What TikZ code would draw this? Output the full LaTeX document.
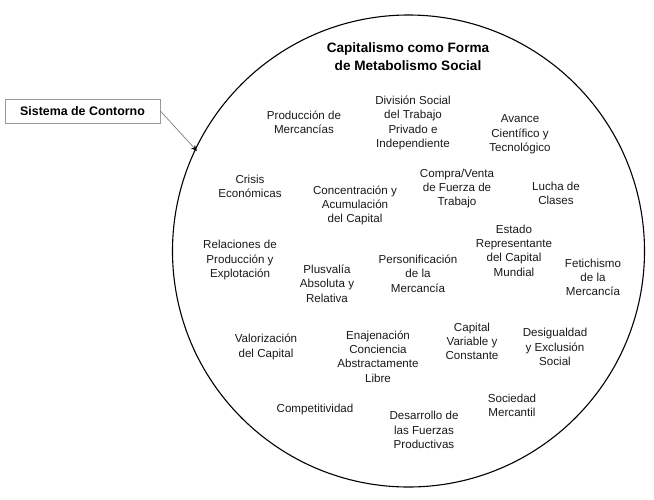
\documentclass[tikz,border=0pt]{standalone}
\usepackage{fontspec}
\setmainfont{Liberation Sans}
\usetikzlibrary{arrows.meta}
\begin{document}
\begin{tikzpicture}[x=1pt,y=-1pt,
  lbl/.style={align=center,inner sep=0pt,text=black!90,font=\fontsize{11.6}{14.3}\selectfont},
  ttl/.style={align=center,inner sep=0pt,font=\bfseries\fontsize{13.6}{18}\selectfont},
  tagbox/.style={draw=black!40,line width=0.8pt,minimum width=155pt,minimum height=24pt,inner sep=0pt,font=\bfseries\fontsize{12.4}{14}\selectfont}]
\useasboundingbox (0,0) rectangle (654,499);
\node[circle,draw,line width=1.1pt,minimum size=472pt,inner sep=0pt] (sys) at (408.5,251) {};
\node[ttl] (title) at (408,57) {Capitalismo como Forma\\de Metabolismo Social};
\node[tagbox] (tag) at (82.5,111) {Sistema de Contorno};
\coordinate (tip) at (197,151);
\draw[black!50,line width=0.7pt,-{Stealth[length=6pt,width=5pt,black]}] (tag.east) -- (tip);
\node[lbl] (n1) at (304,122.5) {Producción de\\Mercancías};
\node[lbl] (n2) at (413,123) {División Social\\del Trabajo\\Privado e\\Independiente};
\node[lbl] (n3) at (520,134.5) {Avance\\Científico y\\Tecnológico};
\node[lbl] (n4) at (250,186) {Crisis\\Económicas};
\node[lbl] (n5) at (355,205.5) {Concentración y\\Acumulación\\del Capital};
\node[lbl] (n6) at (457,188.5) {Compra/Venta\\de Fuerza de\\Trabajo};
\node[lbl] (n7) at (556,193.5) {Lucha de\\Clases};
\node[lbl] (n8) at (514,250.5) {Estado\\Representante\\del Capital\\Mundial};
\node[lbl] (n9) at (240,260) {Relaciones de\\Producción y\\Explotación};
\node[lbl] (n10) at (327,283.5) {Plusvalía\\Absoluta y\\Relativa};
\node[lbl] (n11) at (418,273.5) {Personificación\\de la\\Mercancía};
\node[lbl] (n12) at (593,277.5) {Fetichismo\\de la\\Mercancía};
\node[lbl] (n13) at (266,347) {Valorización\\del Capital};
\node[lbl] (n14) at (378,356.5) {Enajenación\\Conciencia\\Abstractamente\\Libre};
\node[lbl] (n15) at (472,341.5) {Capital\\Variable y\\Constante};
\node[lbl] (n16) at (555,347) {Desigualdad\\y Exclusión\\Social};
\node[lbl] (n17) at (315,409.5) {Competitividad};
\node[lbl] (n18) at (512,405) {Sociedad\\Mercantil};
\node[lbl] (n19) at (424,430) {Desarrollo de\\las Fuerzas\\Productivas};
\end{tikzpicture}
\end{document}
